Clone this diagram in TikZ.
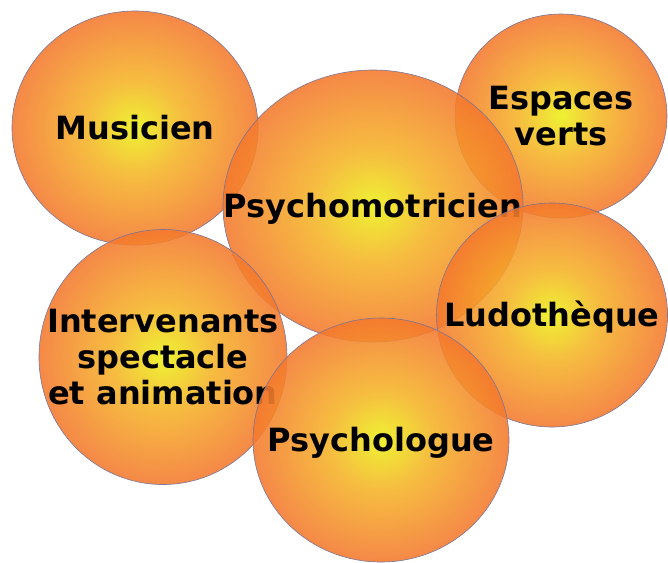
\documentclass[tikz,border=0pt]{standalone}
\usepackage{fontspec}
\setmainfont{DejaVu Sans}
\usetikzlibrary{shapes.geometric}
\definecolor{BulleJaune}{RGB}{236,240,22}
\definecolor{BulleMilieu}{RGB}{245,180,38}
\definecolor{BulleOrange}{RGB}{244,120,46}
\definecolor{BulleBord}{RGB}{122,118,150}
\pgfdeclareradialshading{bulleshade}{\pgfpoint{0bp}{0bp}}{%
  color(0bp)=(BulleJaune); color(10bp)=(BulleMilieu); color(25bp)=(BulleOrange);
  color(50bp)=(BulleOrange)}
\tikzset{
  bulle/.style ={ellipse, draw=BulleBord, line width=.6pt, shading=bulleshade,
                 fill opacity=.88, draw opacity=1, inner sep=0pt},
  titre/.style ={font=\fontsize{32}{36}\selectfont\bfseries, align=center,
                 text=black, fill opacity=1, text opacity=1, inner sep=0pt},
}

\begin{document}
\begin{tikzpicture}[x=1pt,y=-1pt]
  \useasboundingbox (0,0) rectangle (668,562);

  \node[bulle,minimum width=212,minimum height=204,label={[titre]center:{Espaces\\verts}}] (espaces) at (561,116) {};
  \node[bulle,minimum width=246,minimum height=234,label={[titre]center:Musicien}]         (musicien) at (135,128) {};
  \node[bulle,minimum width=300,minimum height=272,label={[titre,yshift=-3pt]center:Psychomotricien}] (psychomot) at (373,206) {};
  \node[bulle,minimum width=248,minimum height=255,label={[titre]center:{Intervenants\\spectacle\\et animation}}] (intervenants) at (163,357) {};
  \node[bulle,minimum width=231,minimum height=224,label={[titre,yshift=-2pt]center:Ludothèque}] (ludo) at (552,315) {};
  \node[bulle,minimum width=256,minimum height=244,label={[titre,yshift=-3pt]center:Psychologue}] (psychologue) at (381,440) {};
\end{tikzpicture}
\end{document}
